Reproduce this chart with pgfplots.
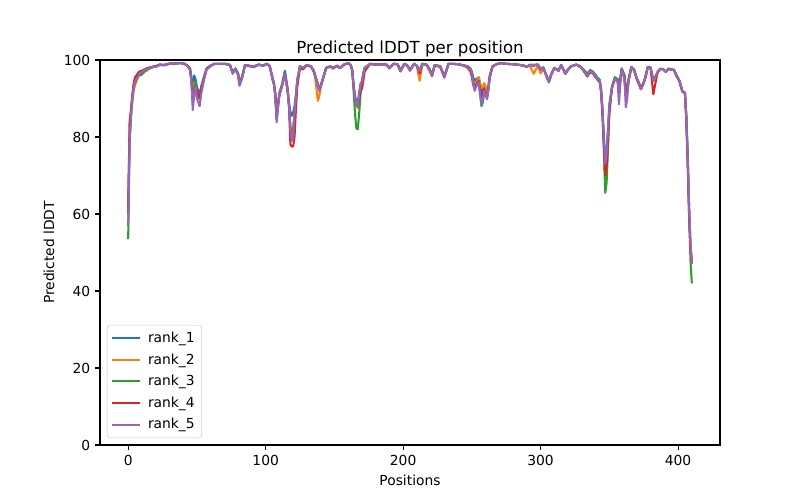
\documentclass[border=0pt]{standalone}
\usepackage{fontspec}
\setmainfont{DejaVu Sans}
\usepackage{pgfplots}
\usepackage{pgfplotstable}
\pgfplotsset{compat=1.18}

\definecolor{tabblue}{HTML}{1F77B4}
\definecolor{taborange}{HTML}{FF7F0E}
\definecolor{tabgreen}{HTML}{2CA02C}
\definecolor{tabred}{HTML}{D62728}
\definecolor{tabpurple}{HTML}{9467BD}

% predicted lDDT per residue
\pgfplotstableread{
pos r1 r2 r3 r4 r5
0 62 61 53.5 60 56.8
1 80 79 78 84 79
2 86 85 85 87 86
3 90 89 90 91 90
4 93 92 93 94 93
5 94.5 93.5 94 95.5 94.5
6 95 94.5 95 96 95
7 95.5 95.5 95.5 96.5 95.5
8 96.5 96 96 97 96.5
10 96.8 96.8 96.2 97.2 96.8
12 97.5 97.4 97 97.6 97.5
14 97.6 97.8 97.4 97.9 97.6
16 97.8 98 98 98.1 98
18 98.2 98.1 98.2 98.3 98.2
20 98.2 98.3 98.3 98.4 98.2
23 98.7 98.8 98.8 98.8 98.8
26 98.6 98.7 98.7 98.7 98.7
30 99 99 99.1 99 99
34 99.1 99.1 99.1 99.1 99.1
38 99.2 99.2 99.2 99.2 99.2
41 99 99 99 99 99
43 98.6 98.5 98.6 98.5 98.5
45 97.8 97.6 97.8 97.4 97.5
46 95.5 95 95 94.5 94
47 91 90 91 89 87
48 96 94 93 92 91
49 95 93.5 94 93 93
50 93 92 91.5 92 90
51 92 91 90 91 89
52 91 90 90.5 90 88
53 93 92 92 92 91
55 95.5 95 95 95 94.6
57 97.8 97.6 97.8 97.5 97.5
60 98.6 98.5 98.6 98.5 98.5
63 99 99 99 99 99
67 99 99 99 99 99
71 98.9 99 99 99 99
74 98.7 98.7 98.7 98.7 98.7
76 96.8 96.5 96.8 96.6 96.4
78 97.8 97.7 97.8 97.7 97.7
80 96.4 96.2 96.5 96 96
81 93.8 93.5 94 93.6 93.3
83 95.8 95.6 95.8 95.6 95.5
85 98.7 98.7 98.7 98.7 98.7
88 98.4 98.5 98.5 98.5 98.5
91 98.2 98.3 98.1 98.3 98.2
95 98.8 98.8 98.8 98.8 98.8
98 98.5 98.5 98.5 98.5 98.5
101 99 99 99 99 99
103 98.4 98.3 98.4 98.3 98.3
105 95.5 95 95.2 95 95
106 94 93.8 94 93.8 93.7
107 91.5 91.2 91 91 91
108 86 85 85 84.5 83.8
109 89 88.5 88 88 88
110 91.5 91 91 91 91
112 93.8 93.5 93.5 93.3 93.3
114 97.2 96.6 96.8 96.5 96.4
116 92.5 92 92 92 92
117 89 88.5 88 88 88
118 86.5 83 82 78.1 82
119 85.5 80.5 81 77.5 79
120 86.4 82 82 77.6 80
121 88 86 86 80 86
122 91 90 90 87 90
123 95 94.6 94.6 93 94.6
125 98.4 98.3 98.4 98 98.3
127 97.9 97.9 97.9 97.5 97.9
130 98.7 98.7 98.7 98.7 98.7
133 98.3 98.3 98.3 98.3 98.3
135 97.2 97 97.2 97 97
136 96 95.5 96 95.9 95.9
138 93.8 89.4 93.5 93.5 93.3
139 92.5 90.5 92.2 92 92
140 93.3 93 93.3 93 93
142 95.6 95.4 95.6 95.5 95.5
144 98 97.9 98 97.9 97.9
147 98.3 98.2 98.4 98.3 98.3
149 97.9 97.7 98 97.9 97.9
152 98.5 98.5 98.5 98.5 98.5
154 98 97.8 98 97.9 97.9
157 98.8 98.8 98.8 98.8 98.8
160 99.2 99.2 99.2 99.2 99.2
162 98.6 98.5 98.6 98.5 98.5
163 97.4 97.2 97.2 97.2 97.2
164 93.5 93 92 93 93
165 90.5 89.5 86 90 90
166 89.5 88 82.2 88.5 88.5
167 89 87.5 82 88 88
168 91.5 90.5 86 90 91
169 93.8 93 91 92 93.5
170 94.5 94.2 93.8 92.5 94.2
171 96.5 96.3 96.2 94.5 96.3
172 98 97.9 97.9 97 97.9
176 99 99 99 99 99
180 98.8 98.8 98.8 98.8 98.8
184 98.9 98.9 98.9 98.9 98.9
188 98.8 98.7 98.8 98.8 98.8
190 98 97.8 98 97.9 97.9
193 99 99 99 99 99
196 98.9 98.8 98.9 98.9 98.9
198 97.4 97 97.3 97.1 97.1
201 99 99 99 99 99
203 98.6 98.5 98.6 98.6 98.6
205 97.5 97.2 97.4 97.3 97.3
208 99 99 99 99 99
210 98.5 98.4 98.5 98.5 98.5
212 97.3 94.6 97.2 96.5 97.1
214 99 98.8 99 99 99
217 98.8 98.8 98.8 98.8 98.8
219 97.8 97.4 97.8 97.5 97.5
221 96.2 95.8 96.2 95.9 95.9
223 98.7 98.6 98.7 98.7 98.7
227 98.3 98.1 98.4 98.3 98.3
230 95.8 95.5 95.8 95.5 95.5
233 99 99 99 99 99
236 99 99 99 99 99
240 98.9 98.9 98.9 98.9 98.9
244 98.6 98.5 98.6 98.6 98.6
247 98.4 98 98.3 98 98.3
249 97.8 97 97.5 97 97.5
250 97 96 96.6 95.5 96.4
251 95.5 94.5 94.5 93.5 94
252 94.5 93 93 92.5 92
253 95 94 93.5 93.5 93
255 95.5 95.5 94.5 94.5 94.2
256 93.5 94 91 92 91
257 91 92.8 88 90 88.5
258 92 93 89 91 90
259 93.5 94 91.5 92.5 92
260 93 93 91 91.5 91
261 91 91.5 90 90.5 89.8
262 93 93 92.5 92.5 92
263 96 95.8 95.5 95.5 95.5
265 98.4 98.3 98.4 98.3 98.3
268 98.9 98.9 98.9 98.9 98.9
271 99.2 99.2 99.2 99.2 99.2
275 99 99 99 99 99
280 98.9 98.9 98.9 98.9 98.9
285 98.7 98.7 98.7 98.7 98.7
288 98.5 98.5 98.5 98.5 98.5
290 98.2 98.2 98.2 98.2 98.2
292 98.7 98.7 98.7 98.7 98.7
295 98.7 96.4 98.7 98.5 98.7
298 98.8 98.5 98.8 98.8 98.8
300 97.7 96.5 97.6 97.5 97.5
302 98.1 97.8 98 98 98
304 96.2 96 96 96.1 96
306 94.5 94.3 94.2 94.5 94.2
308 96.6 96.5 96.4 96.5 96.4
310 98 97.9 97.9 97.9 97.9
313 97.3 97.2 97.2 97.2 97.2
315 98.7 98.7 98.7 98.7 98.7
318 96.6 96.5 96.4 96.4 96.4
320 97.6 97.5 97.5 97.5 97.5
322 98.4 98.3 98.3 98.3 98.3
326 98.8 98.8 98.8 98.8 98.8
329 98.3 98.2 98.3 98.2 98.2
331 97.6 97.4 97.6 97.3 97.4
334 96.3 96 96.4 95.7 95.9
336 97.3 97.1 97.4 96.8 97.1
338 97 96.8 97 96.5 96.8
341 95.5 95.3 95.6 95 95.1
343 94.8 94.5 94.8 94.2 94.6
344 92.5 92 92.5 91.5 92
345 87.5 86.5 86 86 87
346 80 78 77 78 80
347 74 68.6 65.5 70 73
348 76 71 68 72 75.5
349 82 79 77 79 81.6
350 88.5 87 86 86.5 88
351 90.8 90 90 90 90.3
352 93.2 93 93 92.8 93
354 95.5 95.2 95.5 95 95.1
356 95 94.8 95 94.5 94.6
357 94 93 93.5 92 88.5
358 95.5 95 95 94.5 94
359 97.8 97.5 97.8 97.5 97.7
361 96 95.5 96 95.5 95
362 92 91 91 90.5 87.7
363 93 92 92.5 91.5 90
364 95 94.6 95 94.6 94.6
366 98.2 98 98.2 98 98.1
368 97.5 97.3 97.5 97.4 97.4
370 95.2 95 95.2 95 95
371 94.5 94.2 94.5 94.2 94.2
373 92.8 92.4 92.5 92.4 92.4
375 94.2 94 94.2 94 94
376 95.3 95.1 95.3 95.1 95.1
378 98.2 98.1 98.2 98.1 98.1
380 98 98 98 98 98
382 94.8 94.6 94.8 91.1 94.6
383 95.2 95 95.2 93 95
385 96.8 96.8 96.8 96.6 96.8
387 97.7 97.7 97.7 97.7 97.7
389 97.6 97.6 97.7 97.6 97.6
391 96.9 96.9 97 96.9 96.9
393 97.7 97.7 97.8 97.7 97.7
395 97.5 97.5 97.6 97.5 97.5
397 97.4 97.4 97.5 97.4 97.4
399 95.9 95.7 95.9 95.8 95.9
401 94.6 94.4 94.6 94.5 94.6
403 92 91.8 92 92 92
405 91.5 91.3 91.5 91.3 91.5
406 85 85.5 85 84.5 85
407 75 75 74 73 75
408 62 62 60 60 62
409 52 52 48 51 52
410 47.5 48 42 47.7 47
}\lddt

\begin{document}
\begin{tikzpicture}
\path[use as bounding box] (-1in,-0.55in) rectangle (7in,4.45in);
\begin{axis}[
    at={(0,0)}, anchor=south west,
    scale only axis,
    width=6.2in, height=3.85in,
    xmin=-20.5, xmax=430.5,
    ymin=0, ymax=100,
    xtick={0,100,200,300,400},
    ytick={0,20,40,60,80,100},
    tick align=outside,
    tick pos=left,
    major tick length=3.5pt,
    every tick/.style={black, line width=0.8pt},
    axis line style={line width=0.8pt},
    /pgf/number format/assume math mode=true,
    tick label style={font=\fontsize{10}{12}\selectfont},
    label style={font=\fontsize{10}{12}\selectfont},
    title={Predicted lDDT per position},
    title style={font=\fontsize{12}{14}\selectfont, yshift=-7pt},
    xlabel={Positions},
    ylabel={Predicted lDDT},
    legend cell align=left,
    legend style={
        at={(0,0)}, anchor=south west,
        xshift=5pt, yshift=5pt,
        draw=black!20, rounded corners=2pt,
        fill=white, fill opacity=0.8, text opacity=1,
        font=\fontsize{10}{12}\selectfont,
        row sep=2.5pt, column sep=3pt, inner sep=3pt,
    },
    legend image code/.code={
        \draw[#1, line width=1.5pt] (0pt,0pt) -- (20pt,0pt);
    },
    every axis plot/.append style={line width=1.5pt, line join=round},
]
\addplot [color=tabblue] table [x=pos, y=r1] {\lddt};
\addplot [color=taborange] table [x=pos, y=r2] {\lddt};
\addplot [color=tabgreen] table [x=pos, y=r3] {\lddt};
\addplot [color=tabred] table [x=pos, y=r4] {\lddt};
\addplot [color=tabpurple] table [x=pos, y=r5] {\lddt};
\legend{rank\_1, rank\_2, rank\_3, rank\_4, rank\_5}
\end{axis}
\end{tikzpicture}
\end{document}
